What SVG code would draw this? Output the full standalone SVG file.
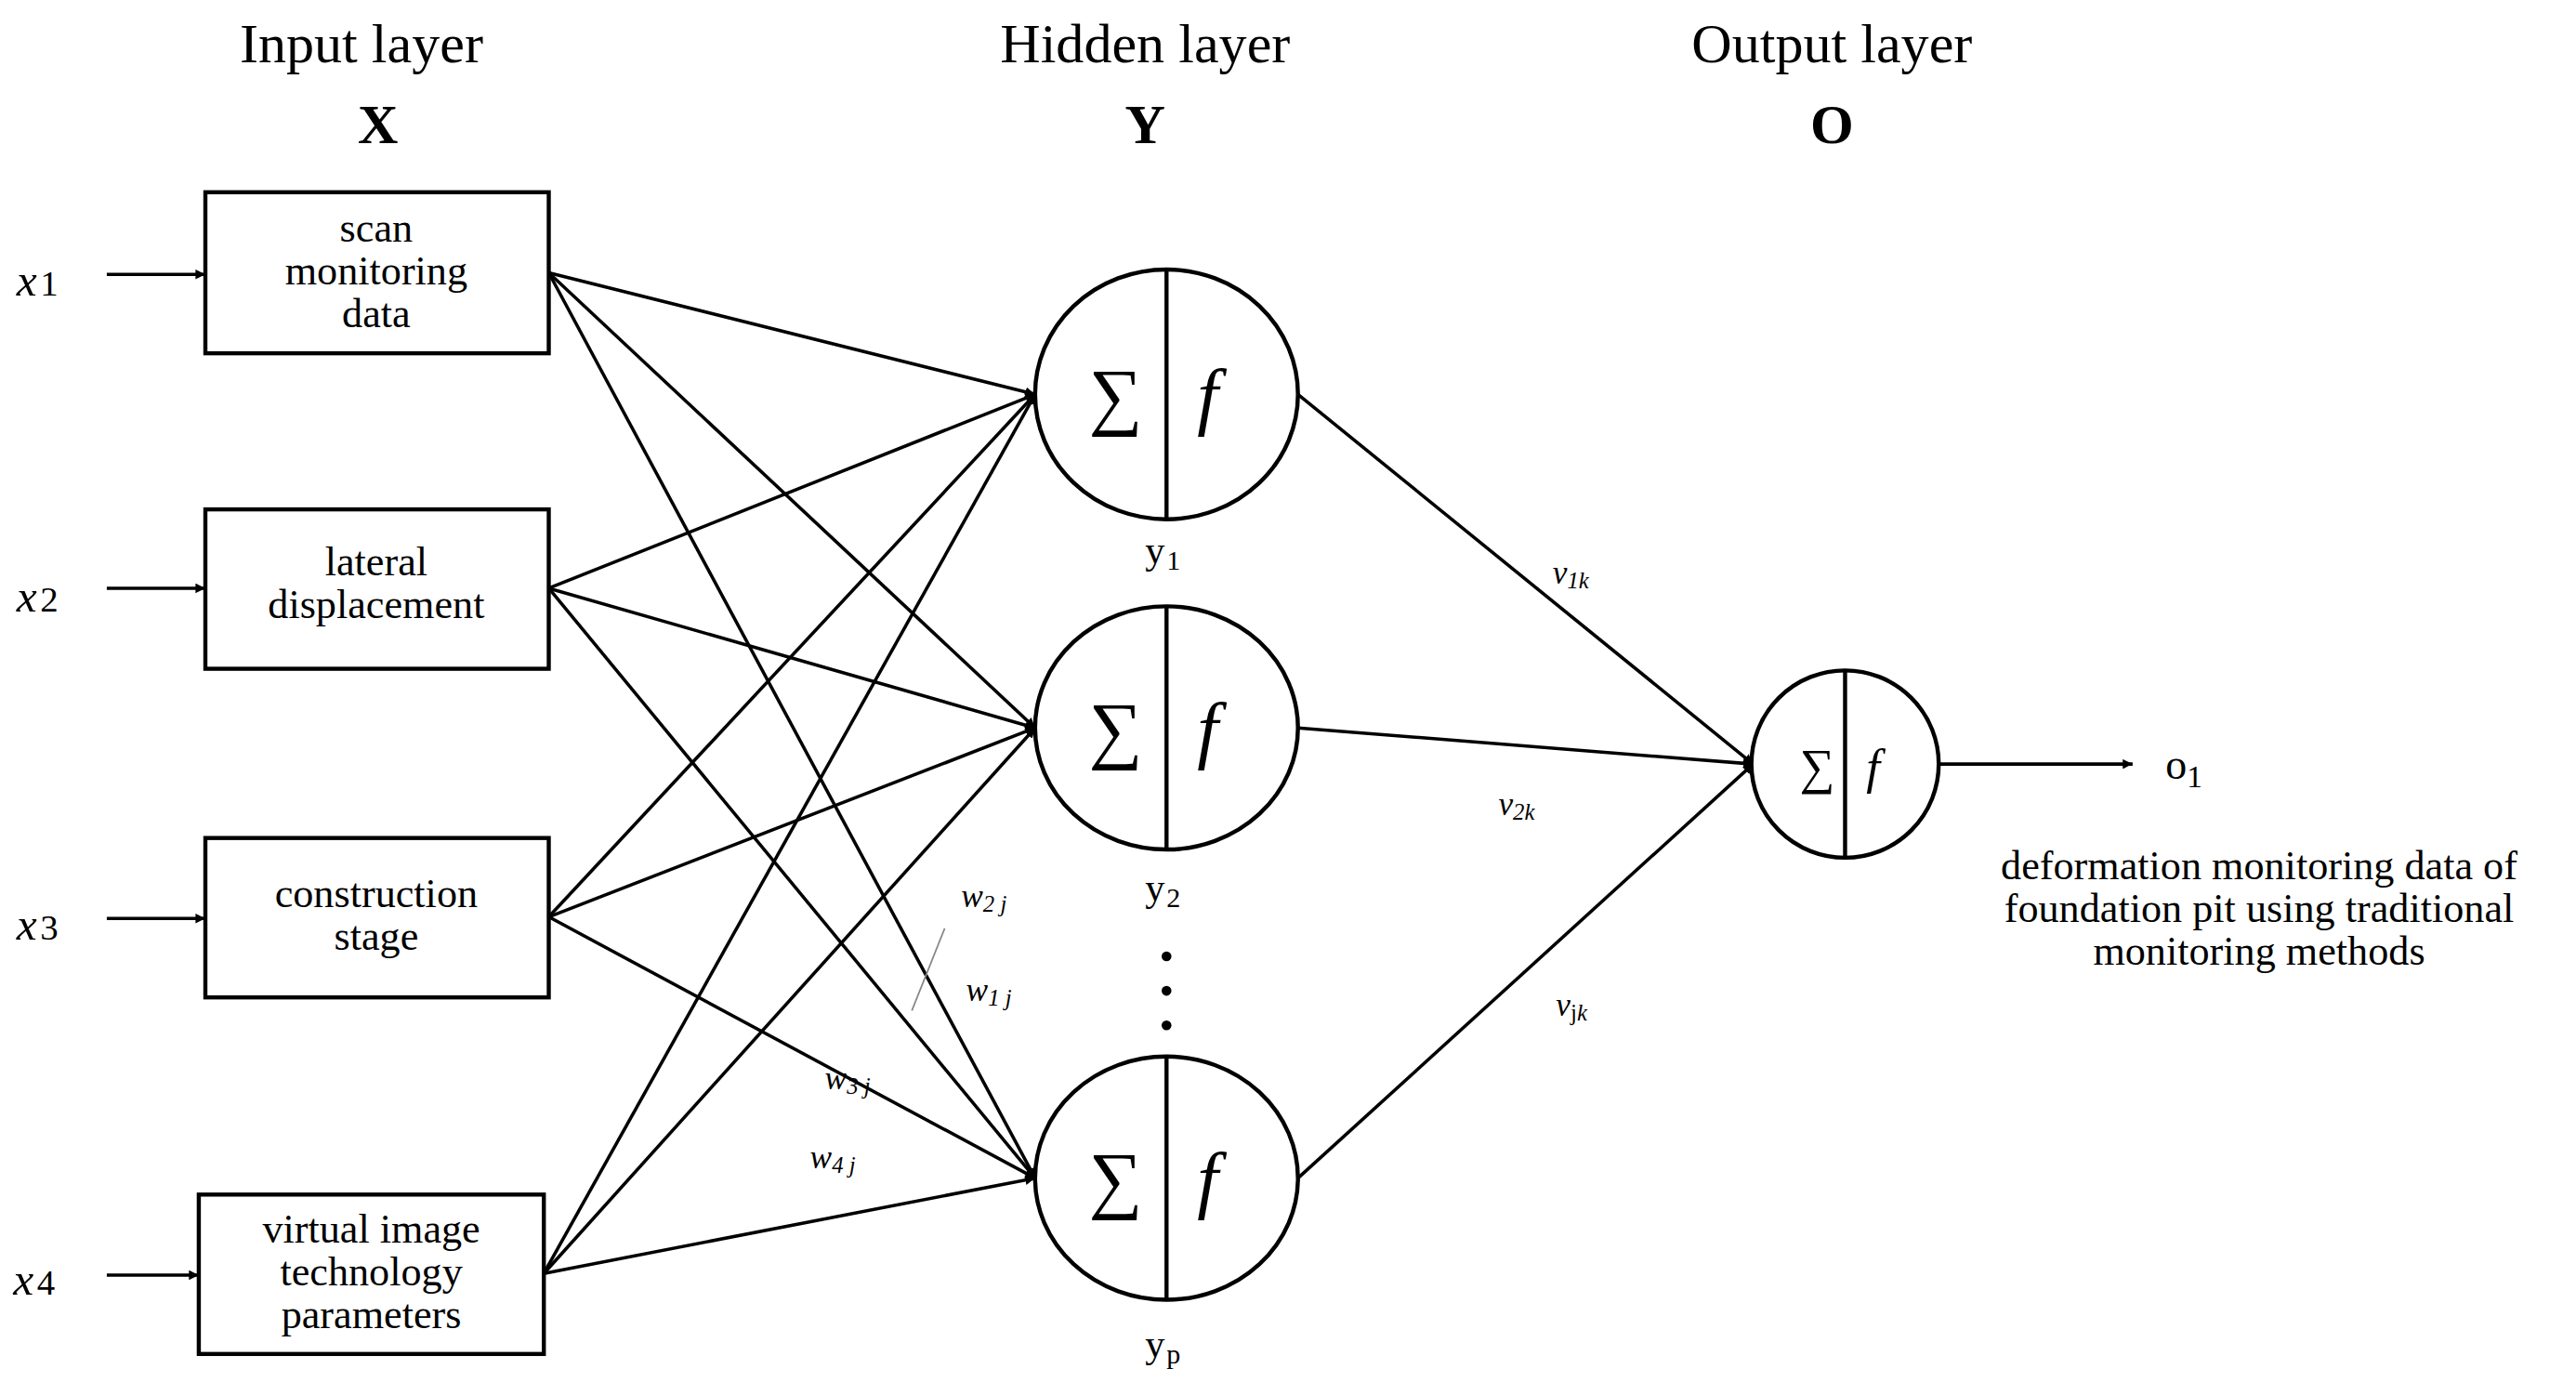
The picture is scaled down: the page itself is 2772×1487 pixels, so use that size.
<svg xmlns="http://www.w3.org/2000/svg" width="2772" height="1487" viewBox="0 0 2772 1487">
<defs>
<marker id="ah" viewBox="0 0 10 10" refX="10" refY="5" markerWidth="6" markerHeight="6" markerUnits="userSpaceOnUse" orient="auto"><path d="M0,0 L10,5 L0,10 z" fill="#000"/></marker>
<style>
text{font-family:"Liberation Serif",serif;fill:#000}
.t{font-size:34px;text-anchor:middle}
.b{font-size:34px;font-weight:bold;text-anchor:middle}
.bx{font-size:25px;text-anchor:middle}
.m{font-size:28px;font-style:italic}
.s{font-size:18px}
.w{font-size:20px;font-style:italic}
.big{font-size:46px;text-anchor:middle}
rect,ellipse{fill:#fff;stroke:#000;stroke-width:2.5}
.c line{stroke:#000;stroke-width:2;marker-end:url(#ah)}
.dv{stroke:#000;stroke-width:2.5}
</style>
</defs>
<rect x="0" y="0" width="2772" height="1487" style="fill:#fff;stroke:none"/>
<g transform="scale(1.768)">
<g id="titles">
<text class="t" x="220" y="38">Input layer</text><text class="b" x="230" y="87">X</text>
<text class="t" x="697" y="38">Hidden layer</text><text class="b" x="697" y="87">Y</text>
<text class="t" x="1115" y="38">Output layer</text><text class="b" x="1115" y="87">O</text>
</g>
<g class="c" id="connectors">
<line x1="65" y1="167" x2="125" y2="167"/>
<line x1="65" y1="358" x2="125" y2="358"/>
<line x1="65" y1="559" x2="125" y2="559"/>
<line x1="65" y1="776" x2="121" y2="776"/>
<line x1="334" y1="166" x2="630" y2="240"/>
<line x1="334" y1="166" x2="630" y2="443"/>
<line x1="334" y1="166" x2="630" y2="717"/>
<line x1="334" y1="358" x2="630" y2="240"/>
<line x1="334" y1="358" x2="630" y2="443"/>
<line x1="334" y1="358" x2="630" y2="717"/>
<line x1="334" y1="558" x2="630" y2="240"/>
<line x1="334" y1="558" x2="630" y2="443"/>
<line x1="334" y1="558" x2="630" y2="717"/>
<line x1="331" y1="775" x2="630" y2="240"/>
<line x1="331" y1="775" x2="630" y2="443"/>
<line x1="331" y1="775" x2="630" y2="717"/>
<line x1="790" y1="240" x2="1067" y2="465"/>
<line x1="790" y1="443" x2="1067" y2="465"/>
<line x1="790" y1="717" x2="1067" y2="465"/>
<line x1="1180" y1="465" x2="1298" y2="465"/>
<line x1="575" y1="565" x2="555" y2="615" style="stroke:#888;stroke-width:1;marker-end:none"/>
</g>
<g id="in1"><text class="m" x="10" y="180">x<tspan class="s" dx="2" style="font-style:normal;font-size:22px">1</tspan></text><rect x="125" y="117" width="209" height="98"/><text class="bx" x="229" y="147">scan</text><text class="bx" x="229" y="173">monitoring</text><text class="bx" x="229" y="199">data</text></g>
<g id="in2"><text class="m" x="10" y="372">x<tspan dx="2" style="font-style:normal;font-size:22px">2</tspan></text><rect x="125" y="310" width="209" height="97"/><text class="bx" x="229" y="350">lateral</text><text class="bx" x="229" y="376">displacement</text></g>
<g id="in3"><text class="m" x="10" y="572">x<tspan dx="2" style="font-style:normal;font-size:22px">3</tspan></text><rect x="125" y="510" width="209" height="97"/><text class="bx" x="229" y="552">construction</text><text class="bx" x="229" y="578">stage</text></g>
<g id="in4"><text class="m" x="8" y="788">x<tspan dx="2" style="font-style:normal;font-size:22px">4</tspan></text><rect x="121" y="727" width="210" height="97"/><text class="bx" x="226" y="756">virtual image</text><text class="bx" x="226" y="782">technology</text><text class="bx" x="226" y="808">parameters</text></g>
<g id="h1"><ellipse cx="710" cy="240" rx="80" ry="76"/><line class="dv" x1="710" y1="164" x2="710" y2="316"/><text class="big" x="679" y="256">∑</text><text class="big" x="735" y="256" style="font-style:italic">f</text><text x="697" y="343" style="font-size:24px">y<tspan dx="1" style="font-size:17px" dy="4">1</tspan></text></g>
<g id="h2"><ellipse cx="710" cy="443" rx="80" ry="74"/><line class="dv" x1="710" y1="369" x2="710" y2="517"/><text class="big" x="679" y="459">∑</text><text class="big" x="735" y="459" style="font-style:italic">f</text><text x="697" y="548" style="font-size:24px">y<tspan dx="1" style="font-size:17px" dy="4">2</tspan></text></g>
<g id="dots"><circle cx="710" cy="582" r="3"/><circle cx="710" cy="603" r="3"/><circle cx="710" cy="624" r="3"/></g>
<g id="h3"><ellipse cx="710" cy="717" rx="80" ry="74"/><line class="dv" x1="710" y1="643" x2="710" y2="791"/><text class="big" x="679" y="733">∑</text><text class="big" x="735" y="733" style="font-style:italic">f</text><text x="697" y="826" style="font-size:24px">y<tspan dx="1" style="font-size:17px" dy="4">p</tspan></text></g>
<g id="out"><ellipse cx="1123" cy="465" rx="57" ry="57"/><line class="dv" x1="1123" y1="408" x2="1123" y2="522"/><text x="1106" y="477" style="font-size:30px;text-anchor:middle">∑</text><text x="1140" y="477" style="font-size:30px;font-style:italic;text-anchor:middle">f</text>
<text x="1318" y="474" style="font-size:26px">o<tspan style="font-size:19px" dy="5">1</tspan></text>
<text class="bx" x="1375" y="535">deformation monitoring data of</text><text class="bx" x="1375" y="561">foundation pit using traditional</text><text class="bx" x="1375" y="587">monitoring methods</text></g>
<g id="wlabels">
<text class="w" x="585" y="552">w<tspan style="font-size:14px" dy="3">2 j</tspan></text>
<text class="w" x="588" y="609">w<tspan style="font-size:14px" dy="3">1 j</tspan></text>
<text class="w" x="502" y="663">w<tspan style="font-size:14px" dy="3">3 j</tspan></text>
<text class="w" x="493" y="711">w<tspan style="font-size:14px" dy="3">4 j</tspan></text>
<text class="w" x="945" y="355">ν<tspan style="font-size:14px" dy="3">1k</tspan></text>
<text class="w" x="912" y="496">ν<tspan style="font-size:14px" dy="3">2k</tspan></text>
<text class="w" x="947" y="618">ν<tspan style="font-size:14px;font-style:normal" dy="3">j</tspan><tspan style="font-size:14px" >k</tspan></text>
</g>
</g>
</svg>
